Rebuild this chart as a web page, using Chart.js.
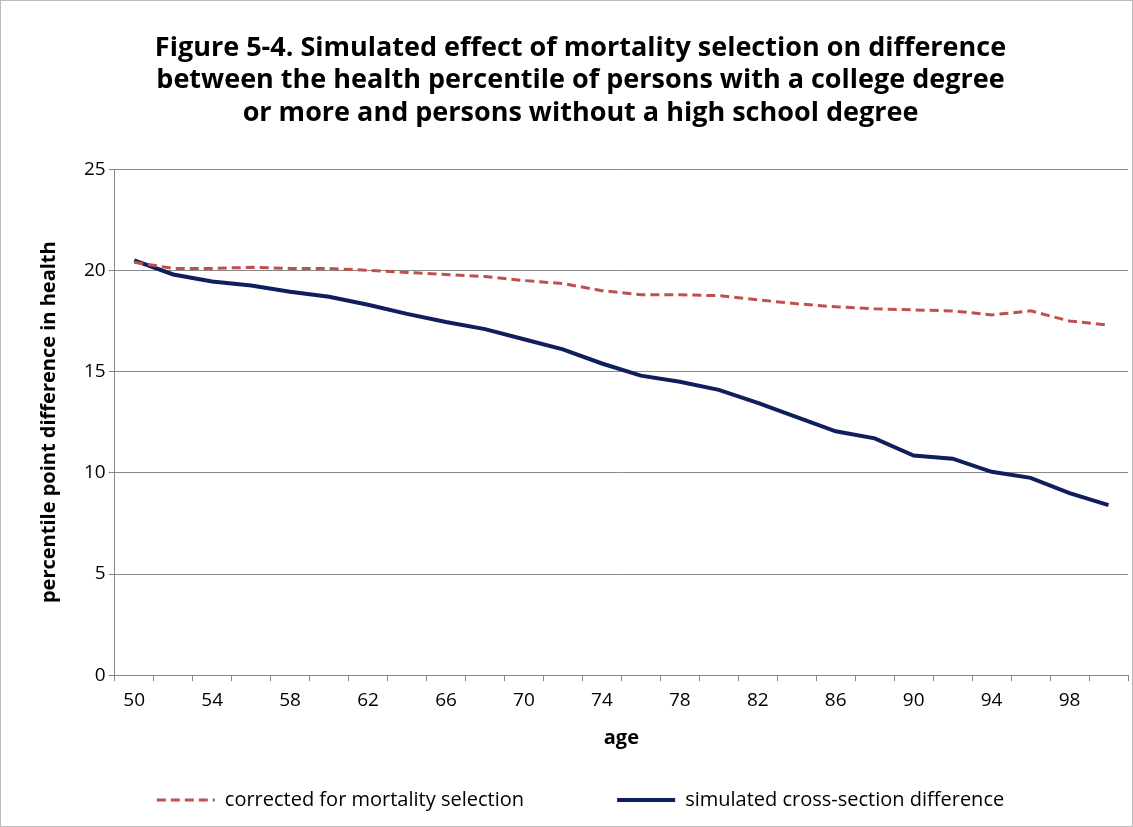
<!DOCTYPE html>
<html><head><meta charset="utf-8">
<script src="https://cdn.jsdelivr.net/npm/chart.js@4"></script>
<style>
body{margin:0;background:#fff;}
#wrap{position:absolute;left:0;top:0;width:1131px;height:825px;border:1px solid #bbb;}
</style></head><body>
<div id="wrap"><canvas id="c" width="1131" height="825"></canvas></div>
<script>
// --- Данные ---
const ages = [50,52,54,56,58,60,62,64,66,68,70,72,74,76,78,80,82,84,86,88,90,92,94,96,98,100];
const corrected = [20.4,20.1,20.1,20.15,20.1,20.1,20.0,19.9,19.8,19.7,19.5,19.35,19.0,18.8,18.8,18.75,18.55,18.35,18.2,18.1,18.05,18.0,17.8,18.0,17.5,17.3];
const simulated = [20.5,19.8,19.45,19.25,18.95,18.7,18.3,17.85,17.45,17.1,16.6,16.1,15.4,14.8,14.5,14.1,13.45,12.75,12.05,11.7,10.85,10.7,10.05,9.75,9.0,8.4];

const font = "'Open Sans', 'Liberation Sans', sans-serif";
Chart.defaults.font.family = font;
Chart.defaults.color = '#000';

new Chart(document.getElementById('c'), {
  type: 'line',
  data: { labels: ages, datasets: [
    { label: 'corrected for mortality selection', data: corrected, borderColor: '#C0504D', borderWidth: 3, borderDash: [9, 5], pointRadius: 0, tension: 0 },
    { label: 'simulated cross-section difference', data: simulated, borderColor: '#0F1F5C', borderWidth: 4, pointRadius: 0, tension: 0 }
  ]},
  options: {
    responsive: false, animation: false,
    layout: { padding: { left: 32, right: 4, top: 8, bottom: 6 } },
    plugins: {
      title: { display: true, text: ['Figure 5-4. Simulated effect of mortality selection on difference', 'between the health percentile of persons with a college degree', 'or more and persons without a high school degree'],
        font: { size: 27, weight: 'bold' }, lineHeight: 1.42, padding: { top: 23, bottom: 40 } },
      legend: { position: 'bottom', labels: { font: { size: 20 }, usePointStyle: true, pointStyle: 'line', pointStyleWidth: 58, padding: 10,
        generateLabels: (chart) => chart.data.datasets.map((d, i) => ({ text: i === 0 ? d.label + '                ' : d.label, strokeStyle: d.borderColor, fillStyle: d.borderColor, lineWidth: d.borderWidth, lineDash: d.borderDash || [], pointStyle: 'line', datasetIndex: i })) } },
      tooltip: { enabled: false }
    },
    scales: {
      x: { offset: true, grid: { display: true, drawOnChartArea: false, drawTicks: true, offset: true, color: '#888', tickLength: 6 },
        border: { color: '#888' },
        ticks: { font: { size: 19 }, padding: 8, maxRotation: 0, autoSkip: false, callback: function(v, i) { return i % 2 === 0 ? ages[i] : ''; } },
        title: { display: true, text: 'age', font: { size: 20, weight: 'bold' }, padding: { top: 6, bottom: 30 } } },
      y: { min: 0, max: 25, ticks: { stepSize: 5, font: { size: 19 } },
        grid: { color: '#888', drawTicks: true, tickLength: 6 }, border: { color: '#888' },
        title: { display: true, text: 'percentile point difference in health', font: { size: 20, weight: 'bold' }, padding: { bottom: 20 } } }
    }
  }
});
</script>
</body></html>
